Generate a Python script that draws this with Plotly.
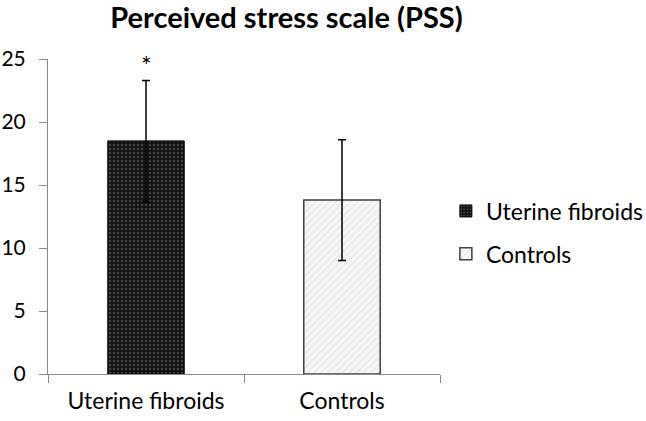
import plotly.graph_objects as go

categories = ["Uterine fibroids", "Controls"]
means = [18.5, 13.8]
sds = [4.8, 4.8]
yticks = [0, 5, 10, 15, 20, 25]

fig = go.Figure()
fig.add_trace(go.Bar(
    x=[categories[0]], y=[means[0]], name="Uterine fibroids", legendgroup="a",
    width=0.39,
    marker=dict(color="#111111", line=dict(color="#000000", width=1),
                pattern=dict(shape=".", bgcolor="#111111", fgcolor="#777777", size=4, solidity=0.3)),
    error_y=dict(type="data", array=[sds[0]], color="#000000", thickness=1.5, width=4),
))
fig.add_trace(go.Bar(
    x=[categories[1]], y=[means[1]], name="Controls", legendgroup="b",
    width=0.39,
    marker=dict(color="#f4f4f4", line=dict(color="#404040", width=1.5),
                pattern=dict(shape="/", bgcolor="#f7f7f7", fgcolor="#dadada", size=5, solidity=0.3)),
    error_y=dict(type="data", array=[sds[1]], color="#000000", thickness=1.5, width=4),
))

fig.add_annotation(x=categories[0], y=means[0] + sds[0], text="*", showarrow=False,
                   yshift=15, font=dict(size=25, color="#000000", family="Lato"))

fig.update_layout(
    width=646, height=421,
    margin=dict(l=48, r=206, t=59, b=47, autoexpand=False),
    paper_bgcolor="white", plot_bgcolor="white",
    barmode="overlay",
    font=dict(family="Lato", size=22, color="#000000"),
    title=dict(text="<b>Perceived stress scale (PSS)</b>", x=286.5 / 646, xanchor="center",
               y=1 - 18 / 421, yanchor="middle", font=dict(size=29, family="Lato")),
    legend=dict(x=1.015, y=(374 - 232.5) / 315, xanchor="left", yanchor="middle",
                font=dict(size=23), itemwidth=30, tracegroupgap=10, traceorder="grouped"),
    showlegend=True,
)
fig.update_xaxes(
    categoryorder="array", categoryarray=categories, automargin=False,
    showline=True, linecolor="#888888", linewidth=1,
    ticks="outside", tickson="boundaries", ticklen=8, tickcolor="#888888",
    showgrid=False, tickfont=dict(size=23), ticklabelstandoff=6,
)
fig.update_yaxes(
    range=[0, 25], tickvals=yticks, automargin=False,
    showline=True, linecolor="#888888", linewidth=1,
    ticks="outside", ticklen=8, tickcolor="#888888", showgrid=False, zeroline=False,
    tickfont=dict(size=21), ticklabelstandoff=9,
)

fig.write_html("out.html", config={"displayModeBar": False},
               post_script="document.body.style.margin='0';")
